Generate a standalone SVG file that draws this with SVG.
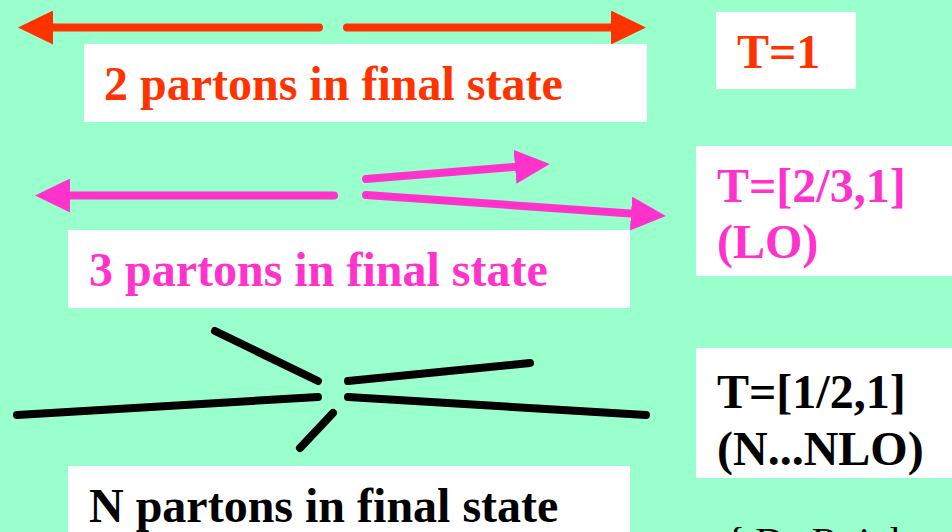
<svg xmlns="http://www.w3.org/2000/svg" width="952" height="532" viewBox="0 0 952 532">
<style>
.bg{fill:#99FFCC}
.box{fill:#FFFFFF}
.t{font-family:'Liberation Serif','DejaVu Serif',serif;font-weight:700;font-size:48px}
.red{fill:#FF3300}
.pink{fill:#FF33CC}
.blk{fill:#000000}
.ln{fill:none;stroke-width:8;stroke-linecap:round}
.lr{stroke:#FF3300}
.lp{stroke:#FF33CC}
.lk{stroke:#000000}
.note{font-family:'Liberation Serif','DejaVu Serif',serif;font-size:40px;fill:#000000}
</style>
<defs>
<marker id="hr" viewBox="0 0 35 34" refX="3" refY="17" markerWidth="35" markerHeight="34" markerUnits="userSpaceOnUse" orient="auto"><path d="M0,0 L35,17 L0,34 Z" fill="#FF3300"/></marker>
<marker id="hp" viewBox="0 0 35 34" refX="3" refY="17" markerWidth="35" markerHeight="34" markerUnits="userSpaceOnUse" orient="auto"><path d="M0,0 L35,17 L0,34 Z" fill="#FF33CC"/></marker>
</defs>
<rect class="bg" x="0" y="0" width="952" height="532"/>
<g id="connectors">
<line class="ln lr" x1="319" y1="27.5" x2="50" y2="27.5" marker-end="url(#hr)"/>
<line class="ln lr" x1="347" y1="27.5" x2="614" y2="27.5" marker-end="url(#hr)"/>
<line class="ln lp" x1="334" y1="195.5" x2="67" y2="195.5" marker-end="url(#hp)"/>
<line class="ln lp" x1="366" y1="179" x2="518" y2="166.6" marker-end="url(#hp)"/>
<line class="ln lp" x1="366" y1="195" x2="634" y2="213.8" marker-end="url(#hp)"/>
<line class="ln lk" x1="215" y1="331" x2="318" y2="381"/>
<line class="ln lk" x1="348" y1="381" x2="530" y2="363"/>
<line class="ln lk" x1="17" y1="415" x2="318" y2="397"/>
<line class="ln lk" x1="348" y1="397" x2="646" y2="415"/>
<line class="ln lk" x1="333" y1="413" x2="300" y2="448"/>
</g>
<g id="label2">
<rect class="box" x="84" y="44" width="563" height="78"/>
<text class="t red" x="104" y="100" font-family="Liberation Serif">2 partons in final state</text>
</g>
<g id="label3">
<rect class="box" x="68" y="230" width="562" height="78"/>
<text class="t pink" x="89" y="286" font-family="Liberation Serif">3 partons in final state</text>
</g>
<g id="labelN">
<rect class="box" x="68" y="466" width="562" height="66"/>
<text class="t blk" x="89" y="522" font-family="Liberation Serif">N partons in final state</text>
</g>
<g id="T1">
<rect class="box" x="716" y="12" width="140" height="77"/>
<text class="t red" x="737" y="68" font-family="Liberation Serif">T=1</text>
</g>
<g id="TLO">
<rect class="box" x="696" y="146" width="256" height="130"/>
<text class="t pink" x="717" y="202" font-family="Liberation Serif">T=[2/3,1]</text>
<text class="t pink" x="717" y="258" font-family="Liberation Serif">(LO)</text>
</g>
<g id="TNLO">
<rect class="box" x="696" y="348" width="256" height="130"/>
<text class="t blk" x="717" y="408" font-family="Liberation Serif">T=[1/2,1]</text>
<text class="t blk" x="717" y="465" font-family="Liberation Serif">(N...NLO)</text>
</g>
<g id="note">
<text class="note" x="726" y="555" font-family="Liberation Serif">{ De Rujula</text>
</g>
</svg>
